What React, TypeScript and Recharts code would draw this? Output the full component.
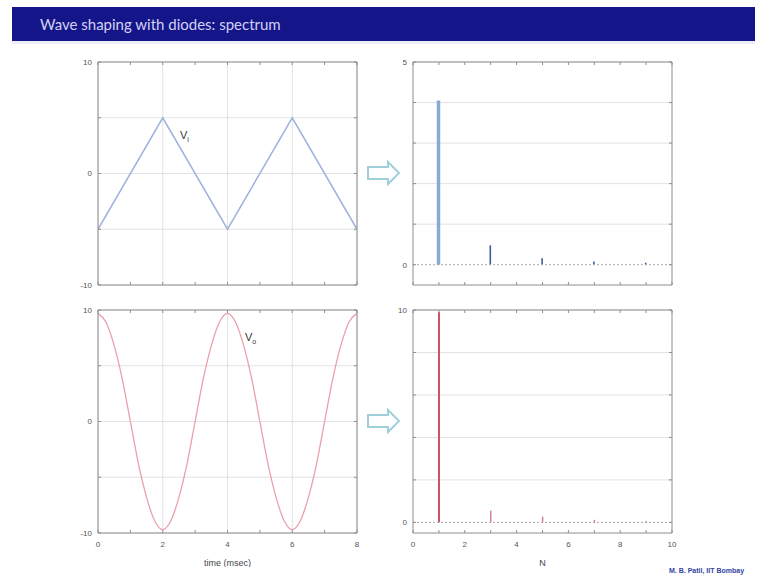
import React from 'react';
import { LineChart, Line, BarChart, Bar, XAxis, YAxis, CartesianGrid, Cell, ReferenceLine } from 'recharts';

// ---- data ----
const triTime = [0, 2, 4, 6, 8];
const triVi = [-5, 5, -5, 5, -5];

const outTime = [0, 0.25, 0.5, 0.75, 1, 1.25, 1.5, 1.75, 2, 2.25, 2.5, 2.75, 3, 3.25, 3.5, 3.75, 4,
  4.25, 4.5, 4.75, 5, 5.25, 5.5, 5.75, 6, 6.25, 6.5, 6.75, 7, 7.25, 7.5, 7.75, 8];
const outVo = [9.7, 8.9, 6.8, 3.8, 0, -3.8, -6.8, -8.9, -9.7, -8.9, -6.8, -3.8, 0, 3.8, 6.8, 8.9, 9.7,
  8.9, 6.8, 3.8, 0, -3.8, -6.8, -8.9, -9.7, -8.9, -6.8, -3.8, 0, 3.8, 6.8, 8.9, 9.7];

const harmonics = [1, 3, 5, 7, 9];
const viSpectrum = [4.05, 0.48, 0.16, 0.08, 0.05];
const voSpectrum = [9.9, 0.55, 0.27, 0.12, 0.07];

const timeTicks = [0, 1, 2, 3, 4, 5, 6, 7, 8];
const timeGrid = [0, 2, 4, 6, 8];
const timeLabels = [0, 2, 4, 6, 8];
const voltTicks = [-10, -5, 0, 5, 10];
const voltLabels = [-10, 0, 10];
const nTicks = [0, 1, 2, 3, 4, 5, 6, 7, 8, 9, 10];
const nLabels = [0, 2, 4, 6, 8, 10];
const specTopTicks = [0, 1, 2, 3, 4, 5];
const specTopLabels = [0, 5];
const specTopGrid = [1, 2, 3, 4, 5];
const specBotTicks = [0, 2, 4, 6, 8, 10];
const specBotLabels = [0, 10];
const specBotGrid = [2, 4, 6, 8, 10];

const triData = triTime.map((t, i) => ({ t, v: triVi[i] }));
const outData = outTime.map((t, i) => ({ t, v: outVo[i] }));
const viSpec = harmonics.map((n, i) => ({ n, a: viSpectrum[i] }));
const voSpec = harmonics.map((n, i) => ({ n, a: voSpectrum[i] }));

// ---- styles ----
const AXIS = '#8e8e8e';
const GRID = '#e2e2e2';
const FONT = 'Liberation Sans, Arial, sans-serif';
const tickStyle = { fontSize: 8, fill: '#555', fontFamily: FONT };
const W = 310;
const H = 267;
const margin = { top: 9, right: 10, bottom: 0, left: 0 };

const fmt = (labels: number[]) => (v: number) => (labels.includes(v) ? String(v) : '');
const none = () => '';

function axes(xKey: string, xDomain: [number, number], xTicks: number[], xLabels: number[] | null, yDomain: [number, number], yTicks: number[], yLabels: number[], xTitle?: string) {
  return [
    <XAxis key="xb" xAxisId={0} type="number" dataKey={xKey} domain={xDomain} ticks={xTicks} allowDataOverflow
      height={34} tickSize={-3} tickMargin={11} stroke={AXIS} tick={tickStyle}
      tickFormatter={xLabels ? fmt(xLabels) : none} interval={0}
      label={xTitle ? { value: xTitle, position: 'insideBottom', offset: 1, style: { fontSize: 9, fill: '#444', fontFamily: FONT } } : undefined} />,
    <XAxis key="xt" xAxisId="top" orientation="top" type="number" dataKey={xKey} domain={xDomain} ticks={xTicks} allowDataOverflow
      height={1} tickSize={-3} stroke={AXIS} tick={tickStyle} tickFormatter={none} interval={0} />,
    <YAxis key="yl" yAxisId={0} type="number" domain={yDomain} ticks={yTicks} allowDataOverflow
      width={40} tickSize={-3} tickMargin={9} stroke={AXIS} tick={tickStyle} tickFormatter={fmt(yLabels)} interval={0} />,
    <YAxis key="yr" yAxisId="right" orientation="right" type="number" domain={yDomain} ticks={yTicks} allowDataOverflow
      width={1} tickSize={-3} stroke={AXIS} tick={tickStyle} tickFormatter={none} interval={0} />,
  ];
}

// stem shape: the fundamental keeps the full bar width, higher harmonics are drawn as thin stems
const stem = (mainW: number, thinW: number) => (p: any) => {
  const w = p.index === 0 ? mainW : thinW;
  const cx = p.x + p.width / 2;
  return <rect x={cx - w / 2} y={p.y} width={w} height={Math.max(p.height, 0)} fill={p.fill} />;
};

function Arrow({ top }: { top: number }) {
  return (
    <svg style={{ position: 'absolute', left: 364, top: top - 14, overflow: 'visible' }} width={40} height={28}>
      <path d="M4 8 L24 8 L24 3 L35 14 L24 25 L24 20 L4 20 Z" fill="#fff" stroke="#9fd0da" strokeWidth={2} />
    </svg>
  );
}

export default function App() {
  return (
    <div style={{ position: 'absolute', left: 0, top: 0, width: 767, height: 578, background: '#fff', overflow: 'hidden' }}>
      <div style={{ position: 'absolute', left: 12, top: 7, width: 743, height: 34, background: '#15158a' }} />
      <div style={{ position: 'absolute', left: 12, top: 41, width: 743, height: 3, background: '#eceef8' }} />
      <div style={{ position: 'absolute', left: 40, top: 15, color: '#d2d2f2', fontFamily: 'Lato, sans-serif', fontSize: 15, whiteSpace: 'nowrap' }}>
        Wave shaping with diodes: spectrum
      </div>

      {/* top-left: input triangle */}
      <div style={{ position: 'absolute', left: 58, top: 52 }}>
        <LineChart width={W} height={H} data={triData} margin={margin}>
          <CartesianGrid stroke={GRID} verticalValues={timeGrid} horizontalValues={voltTicks} xAxisId={0} yAxisId={0} />
          {axes('t', [0, 8], timeTicks, null, [-10, 10], voltTicks, voltLabels)}
          <Line dataKey="v" xAxisId={0} yAxisId={0} type="linear" stroke="#9fb2dc" strokeWidth={1.5} dot={false} isAnimationActive={false} />
        </LineChart>
      </div>

      {/* bottom-left: output */}
      <div style={{ position: 'absolute', left: 58, top: 300 }}>
        <LineChart width={W} height={H} data={outData} margin={margin}>
          <CartesianGrid stroke={GRID} verticalValues={timeGrid} horizontalValues={voltTicks} xAxisId={0} yAxisId={0} />
          {axes('t', [0, 8], timeTicks, timeLabels, [-10, 10], voltTicks, voltLabels, 'time (msec)')}
          <Line dataKey="v" xAxisId={0} yAxisId={0} type="monotone" stroke="#eaa0aa" strokeWidth={1.3} dot={false} isAnimationActive={false} />
        </LineChart>
      </div>

      {/* top-right: input spectrum */}
      <div style={{ position: 'absolute', left: 373, top: 52 }}>
        <BarChart width={W} height={H} data={viSpec} margin={margin}>
          <CartesianGrid stroke={GRID} vertical={false} horizontalValues={specTopGrid} xAxisId={0} yAxisId={0} />
          {axes('n', [0, 10], nTicks, null, [-0.5, 5], specTopTicks, specTopLabels)}
          <ReferenceLine y={0} xAxisId={0} yAxisId={0} stroke="#aaa" strokeDasharray="2 2" />
          <Bar dataKey="a" xAxisId={0} yAxisId={0} barSize={3} isAnimationActive={false} shape={stem(3.5, 1.6)}>
            {viSpec.map((d, i) => <Cell key={i} fill={i === 0 ? '#86acd6' : '#3e5c9e'} />)}
          </Bar>
        </BarChart>
      </div>

      {/* bottom-right: output spectrum */}
      <div style={{ position: 'absolute', left: 373, top: 300 }}>
        <BarChart width={W} height={H} data={voSpec} margin={margin}>
          <CartesianGrid stroke={GRID} vertical={false} horizontalValues={specBotGrid} xAxisId={0} yAxisId={0} />
          {axes('n', [0, 10], nTicks, nLabels, [-0.5, 10], specBotTicks, specBotLabels, 'N')}
          <ReferenceLine y={0} xAxisId={0} yAxisId={0} stroke="#aaa" strokeDasharray="2 2" />
          <Bar dataKey="a" xAxisId={0} yAxisId={0} barSize={2} isAnimationActive={false} shape={stem(2, 1.4)}>
            {voSpec.map((d, i) => <Cell key={i} fill={i === 0 ? '#d0506e' : '#d07a8c'} />)}
          </Bar>
        </BarChart>
      </div>

      <Arrow top={173} />
      <Arrow top={421} />

      <div style={{ position: 'absolute', left: 180, top: 129, fontFamily: FONT, fontSize: 11, color: '#333' }}>
        V<sub style={{ fontSize: 7 }}>i</sub>
      </div>
      <div style={{ position: 'absolute', left: 245, top: 331, fontFamily: FONT, fontSize: 11, color: '#333' }}>
        V<sub style={{ fontSize: 7 }}>o</sub>
      </div>

      <div style={{ position: 'absolute', left: 669, top: 567, fontFamily: FONT, fontSize: 7, fontWeight: 'bold', color: '#3444a0', whiteSpace: 'nowrap' }}>
        M. B. Patil, IIT Bombay
      </div>
    </div>
  );
}
